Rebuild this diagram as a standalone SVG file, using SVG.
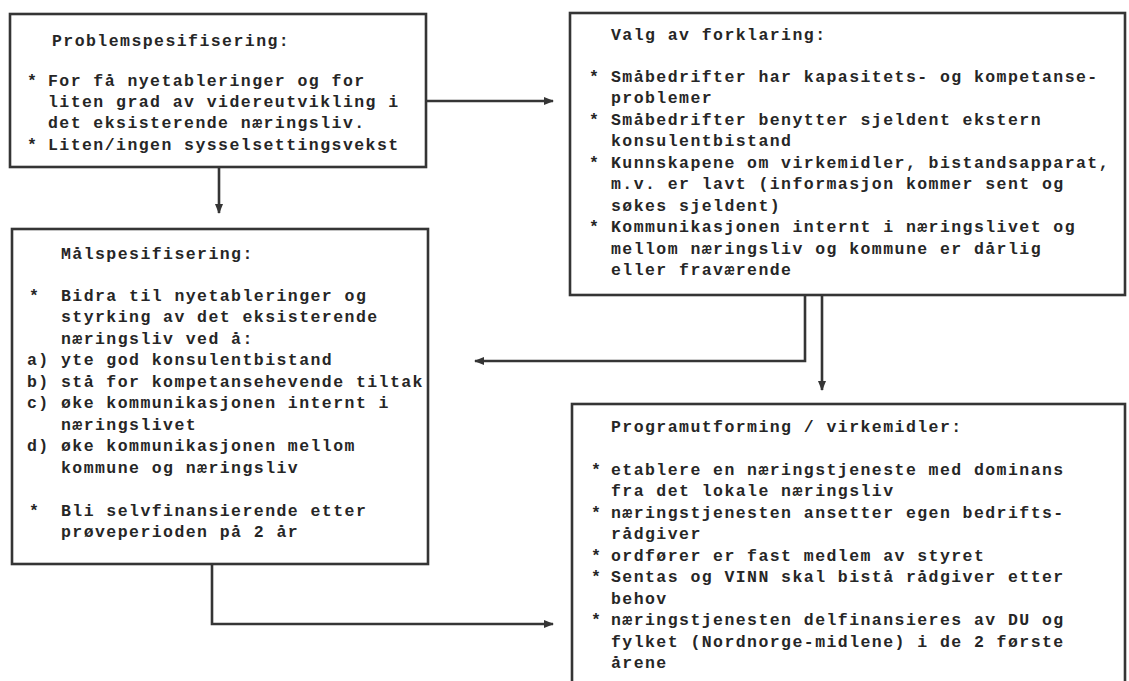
<svg xmlns="http://www.w3.org/2000/svg" width="1129" height="681" viewBox="0 0 1129 681">
<style>
.box{fill:none;stroke:#353535;stroke-width:2.6}
.t{font-family:"Liberation Mono","DejaVu Sans Mono",monospace;font-weight:bold;font-size:16.5px;letter-spacing:1.44px;fill:#262626}
.c{fill:none;stroke:#353535;stroke-width:2.6}
</style>
<defs>
<marker id="ah" viewBox="0 0 10 8" refX="9" refY="4" markerWidth="10" markerHeight="8" markerUnits="userSpaceOnUse" orient="auto">
<path d="M0,0 L10,4 L0,8 Z" fill="#353535"/>
</marker>
</defs>
<rect width="1129" height="681" fill="#ffffff"/>
<g id="problem">
<rect class="box" x="10" y="14" width="416" height="153"/>
<text class="t" x="52" y="46">Problemspesifisering:</text>
<text class="t" x="27" y="86">*</text>
<text class="t" x="48" y="86">For få nyetableringer og for</text>
<text class="t" x="48" y="107">liten grad av videreutvikling i</text>
<text class="t" x="48" y="128">det eksisterende næringsliv.</text>
<text class="t" x="27" y="150">*</text>
<text class="t" x="48" y="150">Liten/ingen sysselsettingsvekst</text>
</g>
<g id="forklaring">
<rect class="box" x="570" y="13" width="555" height="282"/>
<text class="t" x="611" y="40">Valg av forklaring:</text>
<text class="t" x="589" y="82">*</text>
<text class="t" x="611" y="82">Småbedrifter har kapasitets- og kompetanse-</text>
<text class="t" x="611" y="103">problemer</text>
<text class="t" x="589" y="125">*</text>
<text class="t" x="611" y="125">Småbedrifter benytter sjeldent ekstern</text>
<text class="t" x="611" y="146">konsulentbistand</text>
<text class="t" x="589" y="168">*</text>
<text class="t" x="611" y="168">Kunnskapene om virkemidler, bistandsapparat,</text>
<text class="t" x="611" y="189">m.v. er lavt (informasjon kommer sent og</text>
<text class="t" x="611" y="211">søkes sjeldent)</text>
<text class="t" x="589" y="232">*</text>
<text class="t" x="611" y="232">Kommunikasjonen internt i næringslivet og</text>
<text class="t" x="611" y="254">mellom næringsliv og kommune er dårlig</text>
<text class="t" x="611" y="275">eller fraværende</text>
</g>
<g id="maal">
<rect class="box" x="12" y="229" width="416" height="335"/>
<text class="t" x="61" y="259">Målspesifisering:</text>
<text class="t" x="29" y="301">*</text>
<text class="t" x="61" y="301">Bidra til nyetableringer og</text>
<text class="t" x="61" y="322">styrking av det eksisterende</text>
<text class="t" x="61" y="344">næringsliv ved å:</text>
<text class="t" x="27" y="365">a)</text>
<text class="t" x="61" y="365">yte god konsulentbistand</text>
<text class="t" x="27" y="387">b)</text>
<text class="t" x="61" y="387">stå for kompetansehevende tiltak</text>
<text class="t" x="27" y="408">c)</text>
<text class="t" x="61" y="408">øke kommunikasjonen internt i</text>
<text class="t" x="61" y="430">næringslivet</text>
<text class="t" x="27" y="451">d)</text>
<text class="t" x="61" y="451">øke kommunikasjonen mellom</text>
<text class="t" x="61" y="473">kommune og næringsliv</text>
<text class="t" x="29" y="516">*</text>
<text class="t" x="61" y="516">Bli selvfinansierende etter</text>
<text class="t" x="61" y="537">prøveperioden på 2 år</text>
</g>
<g id="program">
<rect class="box" x="572" y="404" width="553" height="300"/>
<text class="t" x="611" y="432">Programutforming / virkemidler:</text>
<text class="t" x="591" y="475">*</text>
<text class="t" x="611" y="475">etablere en næringstjeneste med dominans</text>
<text class="t" x="611" y="496">fra det lokale næringsliv</text>
<text class="t" x="591" y="518">*</text>
<text class="t" x="611" y="518">næringstjenesten ansetter egen bedrifts-</text>
<text class="t" x="611" y="539">rådgiver</text>
<text class="t" x="591" y="561">*</text>
<text class="t" x="611" y="561">ordfører er fast medlem av styret</text>
<text class="t" x="591" y="582">*</text>
<text class="t" x="611" y="582">Sentas og VINN skal bistå rådgiver etter</text>
<text class="t" x="611" y="604">behov</text>
<text class="t" x="591" y="625">*</text>
<text class="t" x="611" y="625">næringstjenesten delfinansieres av DU og</text>
<text class="t" x="611" y="647">fylket (Nordnorge-midlene) i de 2 første</text>
<text class="t" x="611" y="668">årene</text>
</g>
<g id="connectors">
<path class="c" d="M426,101 H553" marker-end="url(#ah)"/>
<path class="c" d="M219,167 V213" marker-end="url(#ah)"/>
<path class="c" d="M805,295 V361 H475" marker-end="url(#ah)"/>
<path class="c" d="M822,295 V390" marker-end="url(#ah)"/>
<path class="c" d="M212,564 V624 H553" marker-end="url(#ah)"/>
</g>
</svg>
